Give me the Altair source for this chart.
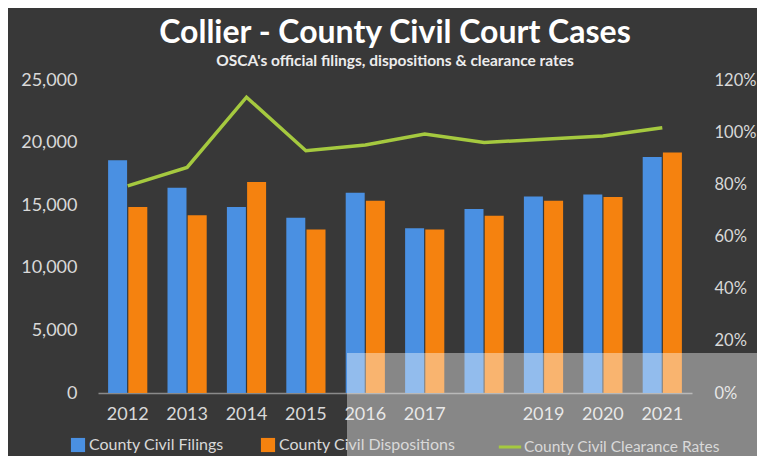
import altair as alt
import pandas as pd

years = ["2012", "2013", "2014", "2015", "2016", "2017", "2018", "2019", "2020", "2021"]
filings = [18600, 16400, 14850, 14000, 16000, 13150, 14700, 15700, 15850, 18850]
dispositions = [14850, 14200, 16850, 13050, 15350, 13050, 14150, 15350, 15650, 19200]
clearance = [0.794, 0.865, 1.134, 0.929, 0.951, 0.993, 0.960, 0.973, 0.985, 1.017]

bar_series = ["County Civil Filings", "County Civil Dispositions"]
line_series = ["County Civil Clearance Rates"]
hidden_labels = ["2018"]

left_ticks = [0, 5000, 10000, 15000, 20000, 25000]
right_ticks = [0, 0.2, 0.4, 0.6, 0.8, 1.0, 1.2]

bars_df = pd.DataFrame({
    "Year": years * 2,
    "Series": [bar_series[0]] * len(years) + [bar_series[1]] * len(years),
    "Cases": filings + dispositions,
})
line_df = pd.DataFrame({"Year": years, "Rate": clearance, "Series": line_series[0]})

FONT = "Lato"
LABEL = "#d9d9d9"

x_enc = alt.X(
    "Year:N",
    sort=years,
    scale=alt.Scale(paddingInner=0.34, paddingOuter=0.17),
    axis=alt.Axis(
        title=None, labelAngle=0, ticks=False, domain=True, domainColor="#8a8a8a",
        domainWidth=1.5, labelPadding=12, labelFontSize=18, labelColor=LABEL,
        labelFont=FONT,
        labelExpr="indexof(%s, datum.value) >= 0 ? '' : datum.value" % str(hidden_labels),
    ),
)

bars = alt.Chart(bars_df).mark_bar().encode(
    x=x_enc,
    xOffset=alt.XOffset("Series:N", sort=bar_series, scale=alt.Scale(paddingInner=0.06)),
    y=alt.Y(
        "Cases:Q",
        scale=alt.Scale(domain=[0, 25000]),
        axis=alt.Axis(
            title=None, values=left_ticks, format=",d", grid=False, domain=False,
            ticks=False, labelPadding=21, labelFontSize=18, labelColor=LABEL,
            labelFont=FONT,
        ),
    ),
    color=alt.Color(
        "Series:N",
        sort=bar_series,
        scale=alt.Scale(domain=bar_series, range=["#4a90e2", "#f5820f"]),
        legend=alt.Legend(
            orient="none", legendX=-28, legendY=357, direction="horizontal",
            title=None, symbolType="square", symbolSize=200, symbolStrokeWidth=0,
            labelFontSize=16, labelColor=LABEL, labelFont=FONT, columnPadding=36,
            labelOffset=3, labelLimit=400,
        ),
    ),
)

line = alt.Chart(line_df).mark_line(strokeWidth=3.5).encode(
    x=x_enc,
    y=alt.Y(
        "Rate:Q",
        scale=alt.Scale(domain=[0, 1.2]),
        axis=alt.Axis(
            title=None, orient="right", values=right_ticks, format=".0%", grid=False,
            domain=False, ticks=False, labelPadding=22, labelFontSize=16.5,
            labelColor=LABEL, labelFont=FONT,
        ),
    ),
    stroke=alt.Stroke(
        "Series:N",
        scale=alt.Scale(domain=line_series, range=["#a5c93f"]),
        legend=alt.Legend(
            orient="none", legendX=399, legendY=354, title=None, symbolType="stroke",
            symbolSize=500, symbolStrokeWidth=3, labelFontSize=15.5, labelColor=LABEL,
            labelFont=FONT, labelOffset=1, labelLimit=400,
        ),
    ),
)

# translucent glare in the lower right of the source photo
glare = alt.Chart(pd.DataFrame({"k": [0]})).mark_rect(color="white", opacity=0.4).encode(
    x=alt.value(249), x2=alt.value(680), y=alt.value(273), y2=alt.value(400)
)

chart = alt.layer(bars, line, glare).resolve_scale(
    y="independent", color="independent", stroke="independent"
).properties(
    width=594,
    height=313,
    autosize=alt.AutoSizeParams(type="none"),
    padding={"left": 90, "top": 72, "right": 65, "bottom": 63},
    background="#383838",
    title=alt.TitleParams(
        text="Collier - County Civil Court Cases",
        subtitle="OSCA's official filings, dispositions & clearance rates",
        anchor="middle", font=FONT, fontSize=32, fontWeight="bold", color="white",
        subtitleFont=FONT, subtitleFontSize=15.5, subtitleFontWeight="bold",
        subtitleColor="#ececec", offset=1, subtitlePadding=4,
    ),
).configure_view(stroke=None)

chart.save("out.html", embed_options={"renderer": "svg", "actions": False})
